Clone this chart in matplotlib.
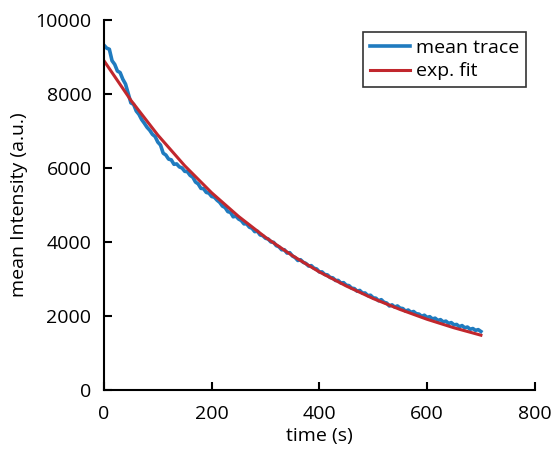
import numpy as np
import matplotlib.pyplot as plt

plt.rcParams['font.family'] = ['Open Sans', 'DejaVu Sans']

# mean trace (5 s steps, 0..700 s)
trace = [9320, 9240, 9210, 8900, 8800, 8620, 8580, 8400, 8270, 8010,
         7760, 7720, 7540, 7450, 7310, 7210, 7100, 7020, 6910, 6850,
         6700, 6620, 6400, 6350, 6240, 6220, 6100, 6110, 6030, 6000,
         5910, 5900, 5800, 5750, 5620, 5570, 5450, 5440, 5340, 5320,
         5230, 5210, 5130, 5070, 4970, 4930, 4820, 4800, 4680, 4700,
         4620, 4580, 4490, 4490, 4400, 4370, 4280, 4290, 4190, 4170,
         4100, 4080, 4000, 3990, 3900, 3870, 3790, 3790, 3700, 3710,
         3620, 3580, 3500, 3520, 3450, 3420, 3350, 3360, 3290, 3270,
         3190, 3190, 3120, 3110, 3040, 3030, 2960, 2960, 2890, 2900,
         2830, 2820, 2750, 2740, 2670, 2690, 2620, 2620, 2550, 2560,
         2490, 2480, 2410, 2440, 2370, 2350, 2270, 2300, 2240, 2270,
         2210, 2200, 2130, 2160, 2100, 2120, 2060, 2050, 1990, 2020,
         1960, 1980, 1920, 1940, 1880, 1900, 1840, 1860, 1800, 1820,
         1760, 1770, 1710, 1740, 1680, 1700, 1640, 1660, 1610, 1630,
         1580]
t_trace = [5 * i for i in range(len(trace))]

# exponential fit (50 s steps)
t_fit = list(range(0, 701, 50))
fit = [8900, 7830, 6890, 6060, 5330, 4690, 4125, 3630, 3190, 2810,
       2470, 2175, 1910, 1680, 1480]

blue = '#1f7bbf'
red = '#c1272d'

fig = plt.figure(figsize=(5.53, 4.55), dpi=100)
ax = fig.add_axes([0.188, 0.143, 0.779, 0.813])

ax.plot(t_trace, trace, color=blue, lw=2.6, label='mean trace')
ax.plot(t_fit, fit, color=red, lw=2.2, label='exp. fit')

ax.set_xlim(0, 800)
ax.set_ylim(0, 10000)
ax.set_xticks([0, 200, 400, 600, 800])
ax.set_yticks([0, 2000, 4000, 6000, 8000, 10000])
ax.spines['top'].set_visible(False)
ax.spines['right'].set_visible(False)
ax.spines['left'].set_linewidth(1.5)
ax.spines['bottom'].set_linewidth(1.5)
ax.tick_params(direction='in', length=6, width=1.5, labelsize=14)
ax.tick_params(axis='x', pad=11)
ax.tick_params(axis='y', pad=9)

ax.set_xlabel('time (s)', fontsize=14, labelpad=3)
ax.set_ylabel('mean Intensity (a.u.)', fontsize=14, labelpad=5)

leg = ax.legend(loc='upper right', fontsize=14, frameon=True, fancybox=False,
                edgecolor='black', handlelength=2.05, borderpad=0.35,
                labelspacing=0.3, handletextpad=0.3, borderaxespad=0,
                bbox_to_anchor=(0.979, 0.968))
leg.get_frame().set_linewidth(1.2)

fig.savefig('out.png', dpi=100)
